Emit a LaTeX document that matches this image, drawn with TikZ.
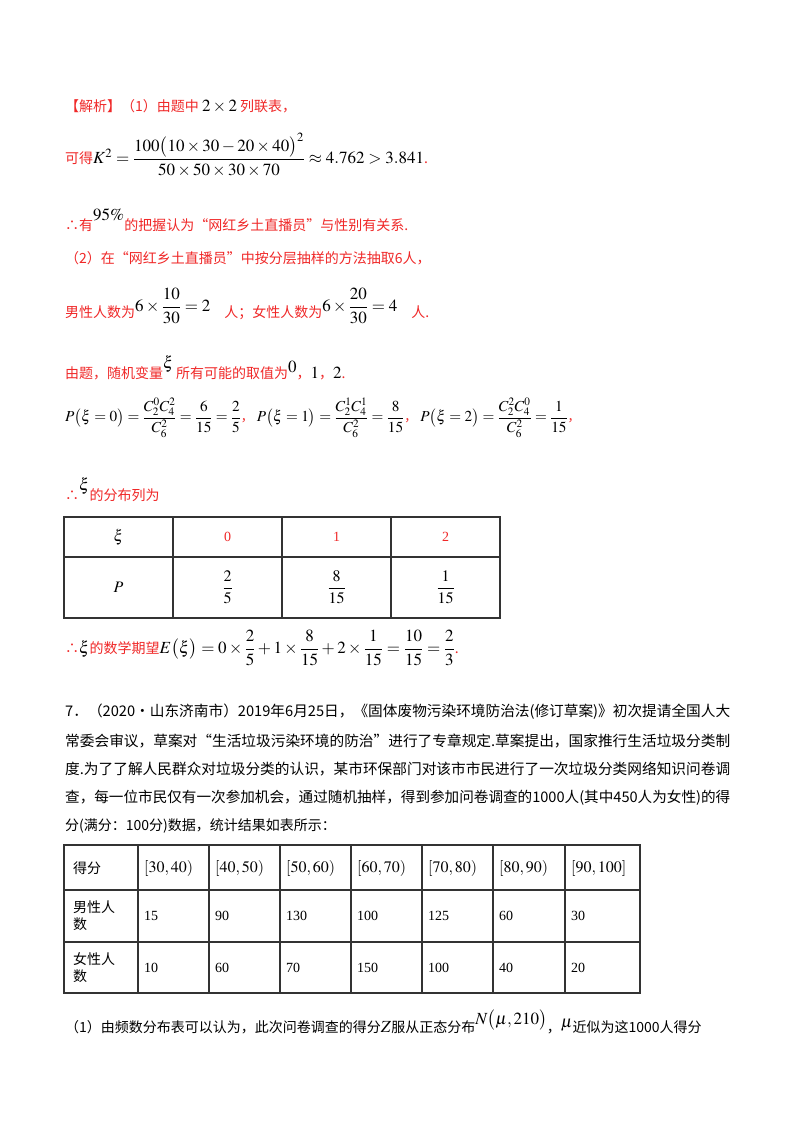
\documentclass[tikz,border=0pt]{standalone}
\usepackage{amsmath}
\usepackage{mathptmx}
\usepackage{fontspec}
\setmainfont{Noto Sans CJK SC}
\newfontfamily\tnr{Liberation Serif}
\definecolor{hred}{RGB}{240,40,40}
\newcommand{\Mth}[1]{\textcolor{black}{\fontsize{17}{20}\selectfont$#1$}}
\begin{document}
\begin{tikzpicture}[x=1pt,y=-1pt,
  txt/.style={anchor=west,inner sep=0pt,font=\fontsize{14}{16}\selectfont},
  rtxt/.style={txt,text=hred},
  cell/.style={inner sep=0pt,font=\fontsize{16}{18}\selectfont},
  tcell/.style={inner sep=0pt,font=\fontsize{14}{16}\selectfont},
  grid/.style={line width=1.1pt,draw=black!80}]
\useasboundingbox[fill=white] (0,0) rectangle (800,1132);
% Part 1
\node[rtxt] (l1) at (65,106) {【解析】（1）由题中 \Mth{2\times 2} 列联表，};
\node[rtxt] (l2) at (65,155) {可得\Mth{K^2=\dfrac{100\bigl(10\times30-20\times40\bigr)^2}{50\times50\times30\times70}\approx 4.762>3.841}.};
\node[rtxt] (l3) at (65,220) {∴有\raisebox{1.3ex}{\Mth{95\%}}的把握认为“网红乡土直播员”与性别有关系.};
\node[rtxt] (l4) at (65,258) {（2）在“网红乡土直播员”中按分层抽样的方法抽取6人，};
\node[rtxt] (l5) at (65,306) {男性人数为\raisebox{0.8ex}{\Mth{6\times\dfrac{10}{30}=2}}\quad 人；女性人数为\raisebox{0.8ex}{\Mth{6\times\dfrac{20}{30}=4}}\quad 人.};
\node[rtxt] (l6) at (65,368) {由题，随机变量\raisebox{1.3ex}{\Mth{\xi}}\,所有可能的取值为\raisebox{0.8ex}{\Mth{0}}，\Mth{1}，\Mth{2}.};
\node[rtxt] (l7) at (65,418) {\resizebox{515pt}{!}{\Mth{P\bigl(\xi=0\bigr)=\dfrac{C_2^0C_4^2}{C_6^2}=\dfrac{6}{15}=\dfrac{2}{5}}，\;\Mth{P\bigl(\xi=1\bigr)=\dfrac{C_2^1C_4^1}{C_6^2}=\dfrac{8}{15}}，\;\Mth{P\bigl(\xi=2\bigr)=\dfrac{C_2^2C_4^0}{C_6^2}=\dfrac{1}{15}}，}};
\node[rtxt] (l8) at (65,490) {∴\raisebox{1.3ex}{\Mth{\xi}}的分布列为};
% Table 1
\draw[grid] (64,517) rectangle (500,618);
\draw[grid] (64,557) -- (500,557);
\foreach \x in {173,282,391} \draw[grid] (\x,517) -- (\x,618);
\node[cell] (t1a) at (118.5,537) {$\xi$};
\node[tcell,text=hred] (t1b) at (227.5,537) {\tnr 0};
\node[tcell,text=hred] (t1c) at (336.5,537) {\tnr 1};
\node[tcell,text=hred] (t1d) at (445.5,537) {\tnr 2};
\node[cell] (t1e) at (118.5,587) {$P$};
\node[cell] (t1f) at (227.5,587) {$\dfrac{2}{5}$};
\node[cell] (t1g) at (336.5,587) {$\dfrac{8}{15}$};
\node[cell] (t1h) at (445.5,587) {$\dfrac{1}{15}$};
\node[rtxt] (l9) at (65,648) {∴\Mth{\xi}的数学期望\Mth{E\bigl(\xi\bigr)=0\times\dfrac{2}{5}+1\times\dfrac{8}{15}+2\times\dfrac{1}{15}=\dfrac{10}{15}=\dfrac{2}{3}}.};
% Problem 7
\node[txt] (p1) at (65,712) {\resizebox{665pt}{!}{7．（2020•山东济南市）2019年6月25日，《固体废物污染环境防治法(修订草案)》初次提请全国人大}};
\node[txt] (p2) at (65,741) {\resizebox{665pt}{!}{常委会审议，草案对“生活垃圾污染环境的防治”进行了专章规定.草案提出，国家推行生活垃圾分类制}};
\node[txt] (p3) at (65,769) {\resizebox{665pt}{!}{度.为了了解人民群众对垃圾分类的认识，某市环保部门对该市市民进行了一次垃圾分类网络知识问卷调}};
\node[txt] (p4) at (65,798) {\resizebox{665pt}{!}{查，每一位市民仅有一次参加机会，通过随机抽样，得到参加问卷调查的1000人(其中450人为女性)的得}};
\node[txt] (p5) at (65,826) {分(满分：100分)数据，统计结果如表所示：};
% Table 2
\draw[grid] (64,845) rectangle (640,993);
\foreach \y in {890,942} \draw[grid] (64,\y) -- (640,\y);
\foreach \x in {138,209,280,351,422,493,565} \draw[grid] (\x,845) -- (\x,993);
\node[tcell,anchor=west] (h0) at (73,868) {得分};
\node[cell,anchor=west] (h1) at (144,868) {$\left[30,40\right)$};
\node[cell,anchor=west] (h2) at (215,868) {$\left[40,50\right)$};
\node[cell,anchor=west] (h3) at (286,868) {$\left[50,60\right)$};
\node[cell,anchor=west] (h4) at (357,868) {$\left[60,70\right)$};
\node[cell,anchor=west] (h5) at (428,868) {$\left[70,80\right)$};
\node[cell,anchor=west] (h6) at (499,868) {$\left[80,90\right)$};
\node[cell,anchor=west] (h7) at (571,868) {$\left[90,100\right]$};
\node[tcell,anchor=west,align=left,font=\fontsize{14}{17}\selectfont] (m0) at (73,916) {男性人\\数};
\node[tcell,anchor=west,align=left,font=\fontsize{14}{17}\selectfont] (f0) at (73,968) {女性人\\数};
\foreach \x/\a/\b [count=\i] in {144/15/10,215/90/60,286/130/70,357/100/150,428/125/100,499/60/40,571/30/20}{
  \node[tcell,anchor=west] (m\i) at (\x,916) {\tnr \a};
  \node[tcell,anchor=west] (f\i) at (\x,968) {\tnr \b};
}
\node[txt] (q1) at (65,1022) {（1）由频数分布表可以认为，此次问卷调查的得分\Mth{Z}服从正态分布\raisebox{1ex}{\Mth{N\bigl(\mu,210\bigr)}}，\raisebox{0.6ex}{\Mth{\mu}}近似为这1000人得分};
\end{tikzpicture}
\end{document}
